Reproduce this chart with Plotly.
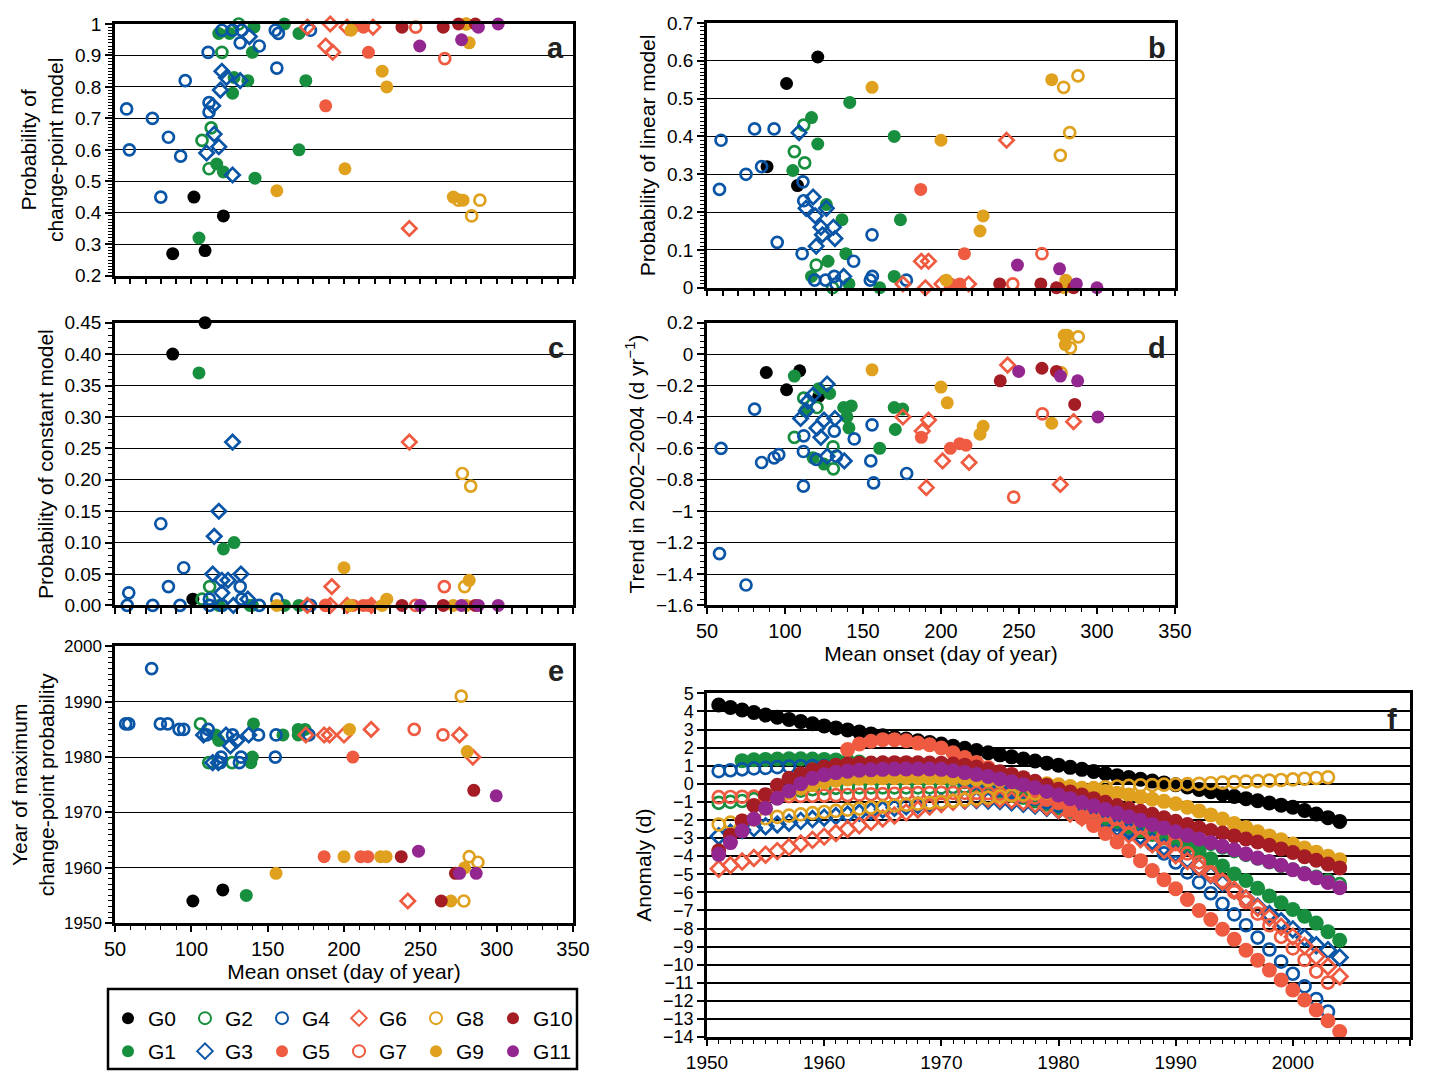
import plotly.graph_objects as go

# ---------------- groups / styles ----------------
GROUPS = ["G0", "G1", "G2", "G3", "G4", "G5", "G6", "G7", "G8", "G9", "G10", "G11"]
COLOR = {"G0": "#000000", "G1": "#178f3f", "G2": "#178f3f", "G3": "#0a55a6", "G4": "#0a55a6",
         "G5": "#ef5b40", "G6": "#ef5b40", "G7": "#ef5b40", "G8": "#dfa11e", "G9": "#dfa11e",
         "G10": "#a51d24", "G11": "#93278f"}
SYMBOL = {"G0": "circle", "G1": "circle", "G2": "circle-open", "G3": "diamond-open", "G4": "circle-open",
          "G5": "circle", "G6": "diamond-open", "G7": "circle-open", "G8": "circle-open", "G9": "circle",
          "G10": "circle", "G11": "circle"}

# ---------------- panel a: probability of change-point model ----------------
A_X = {"G0": [101.7, 121, 87.8, 109],
       "G1": [118, 125, 141, 161, 170.5, 140, 128, 137, 127, 175, 170.5, 116.6, 121, 141.7, 105],
       "G2": [131, 120, 113, 107, 111.6],
       "G3": [138, 120, 123, 132, 119, 114, 115, 118, 110, 127],
       "G4": [57.6, 59.4, 74.5, 80, 85, 93, 96, 111, 111.6, 111.6, 120, 127, 132, 133, 144.5, 155, 157, 156, 178],
       "G5": [206, 212.7, 216, 188],
       "G6": [176, 191, 202, 219, 188, 192.6, 242.8],
       "G7": [247, 266],
       "G8": [275, 289, 283.6, 280],
       "G9": [204.6, 280, 282, 225, 228, 200.6, 156, 271.6, 278],
       "G10": [238, 265, 275, 286],
       "G11": [249.6, 277, 288, 301]}
A_Y = {"G0": [0.45, 0.39, 0.27, 0.28],
       "G1": [0.97, 0.97, 0.99, 1.0, 0.97, 0.91, 0.83, 0.82, 0.78, 0.82, 0.60, 0.555, 0.53, 0.51, 0.32],
       "G2": [1.0, 0.91, 0.67, 0.63, 0.54],
       "G3": [0.96, 0.85, 0.83, 0.82, 0.79, 0.74, 0.65, 0.61, 0.59, 0.52],
       "G4": [0.73, 0.60, 0.70, 0.45, 0.64, 0.58, 0.82, 0.91, 0.75, 0.72, 0.98, 0.98, 0.94, 0.98, 0.93, 0.98, 0.97, 0.86, 0.98],
       "G5": [0.99, 0.99, 0.91, 0.74],
       "G6": [0.99, 1.0, 0.99, 0.99, 0.93, 0.91, 0.35],
       "G7": [0.99, 0.89],
       "G8": [0.44, 0.44, 0.39, 1.0],
       "G9": [0.98, 1.0, 0.94, 0.85, 0.80, 0.54, 0.47, 0.45, 0.44],
       "G10": [0.99, 0.99, 1.0, 1.0],
       "G11": [0.93, 0.95, 0.99, 1.0]}

# ---------------- panel b: probability of linear model ----------------
B_X = {"G0": [121, 101, 88.5, 108],
       "G1": [117, 141.5, 121, 105, 126.5, 136.5, 170, 174, 139, 127.6, 117, 141, 160.7, 170],
       "G2": [112, 106, 112.6, 120, 130.5],
       "G3": [109, 118, 113.5, 119.4, 126.5, 123, 131, 124, 132, 120, 137.6],
       "G4": [59, 58, 80.5, 93, 75, 85, 95, 111.5, 112, 111, 119, 131.6, 132.7, 144, 155.8, 156, 154.7, 177.8, 126],
       "G5": [187, 215, 206, 212],
       "G6": [242, 187.4, 192, 175.6, 190, 200.6, 217.7],
       "G7": [264.7, 246],
       "G8": [278.6, 287.8, 282.5, 276.5],
       "G9": [155.8, 200, 227, 225, 271, 203.4, 280, 279],
       "G10": [237.6, 264, 274, 285],
       "G11": [249, 276, 286.8, 300]}
B_Y = {"G0": [0.61, 0.54, 0.32, 0.27],
       "G1": [0.45, 0.49, 0.38, 0.31, 0.22, 0.18, 0.40, 0.18, 0.09, 0.07, 0.03, 0.01, 0.0, 0.03],
       "G2": [0.43, 0.36, 0.33, 0.06, 0.0],
       "G3": [0.41, 0.24, 0.21, 0.19, 0.21, 0.16, 0.16, 0.14, 0.13, 0.11, 0.03],
       "G4": [0.39, 0.26, 0.42, 0.42, 0.30, 0.32, 0.12, 0.28, 0.23, 0.09, 0.02, 0.03, 0.01, 0.07, 0.14, 0.03, 0.02, 0.02, 0.02],
       "G5": [0.26, 0.09, 0.01, 0.01],
       "G6": [0.39, 0.07, 0.07, 0.01, 0.0, 0.01, 0.01],
       "G7": [0.09, 0.01],
       "G8": [0.53, 0.56, 0.41, 0.35],
       "G9": [0.53, 0.39, 0.19, 0.15, 0.55, 0.02, 0.02, 0.0],
       "G10": [0.01, 0.01, 0.0, 0.0],
       "G11": [0.06, 0.05, 0.01, 0.0]}

# ---------------- panel c: probability of constant model ----------------
C_X = {"G0": [109, 87.8, 101],
       "G1": [105, 121, 128, 118, 138.4, 161, 170.5, 140],
       "G2": [112, 107, 120],
       "G3": [127, 118, 115, 114, 132.5, 120, 124, 120, 127.5, 137],
       "G4": [80, 95, 59, 85, 58, 74.7, 92.6, 111.8, 132, 133, 111.8, 120, 144.5, 156, 178],
       "G5": [206, 212.7, 216, 188],
       "G6": [242.8, 192, 176, 191, 218, 202],
       "G7": [265.7, 188, 247],
       "G8": [277.5, 283, 279],
       "G9": [200, 282, 228, 156, 204, 225, 271.6, 280],
       "G10": [238, 265, 286],
       "G11": [250, 277, 288, 301]}
C_Y = {"G0": [0.45, 0.40, 0.01],
       "G1": [0.37, 0.09, 0.10, 0.0, 0.0, 0.0, 0.0, 0.0],
       "G2": [0.03, 0.01, 0.0],
       "G3": [0.26, 0.15, 0.11, 0.05, 0.05, 0.04, 0.04, 0.02, 0.0, 0.01],
       "G4": [0.13, 0.06, 0.02, 0.03, 0.0, 0.0, 0.0, 0.01, 0.03, 0.01, 0.0, 0.0, 0.0, 0.01, 0.0],
       "G5": [0.0, 0.0, 0.0, 0.0],
       "G6": [0.26, 0.03, 0.0, 0.0, 0.0, 0.0],
       "G7": [0.03, 0.0, 0.0],
       "G8": [0.21, 0.19, 0.03],
       "G9": [0.06, 0.04, 0.01, 0.0, 0.0, 0.0, 0.0, 0.0],
       "G10": [0.0, 0.0, 0.0],
       "G11": [0.0, 0.0, 0.0, 0.0]}

# ---------------- panel d: trend in 2002-2004 ----------------
D_X = {"G0": [88, 109.4, 101, 121.6],
       "G1": [106, 121.6, 128.6, 137.6, 142.5, 139.7, 141, 170, 175.4, 170.7, 160.7, 118, 125, 113],
       "G2": [112, 120.5, 106, 130.8, 131],
       "G3": [127, 118, 114.7, 113.7, 110, 125, 132, 120.5, 123, 127, 138],
       "G4": [59, 58, 75, 80.5, 85, 93, 96, 112, 111.8, 111.8, 120, 131.6, 133, 144.4, 155.8, 155, 156.8, 178],
       "G5": [187.4, 206, 212, 216],
       "G6": [242.7, 175.6, 192, 188, 201, 218, 190.6, 276.5, 285],
       "G7": [265, 246.6],
       "G8": [288, 283, 277],
       "G9": [155.8, 200, 204, 227, 225, 271, 279, 281, 279.7],
       "G10": [238, 264.7, 274, 285.7],
       "G11": [249.8, 276.5, 287.6, 300.6]}
D_Y = {"G0": [-0.117, -0.106, -0.227, -0.27],
       "G1": [-0.14, -0.22, -0.25, -0.34, -0.33, -0.40, -0.47, -0.34, -0.35, -0.48, -0.60, -0.66, -0.70, -0.36],
       "G2": [-0.28, -0.34, -0.53, -0.59, -0.73],
       "G3": [-0.19, -0.26, -0.30, -0.36, -0.41, -0.42, -0.41, -0.47, -0.53, -0.65, -0.68],
       "G4": [-0.60, -1.27, -1.47, -0.35, -0.69, -0.66, -0.64, -0.52, -0.62, -0.84, -0.67, -0.49, -0.65, -0.54, -0.45, -0.68, -0.82, -0.76],
       "G5": [-0.53, -0.60, -0.57, -0.58],
       "G6": [-0.07, -0.40, -0.42, -0.49, -0.68, -0.69, -0.85, -0.83, -0.43],
       "G7": [-0.38, -0.91],
       "G8": [0.11, 0.04, -0.12],
       "G9": [-0.10, -0.21, -0.31, -0.46, -0.51, -0.44, 0.12, 0.12, 0.06],
       "G10": [-0.17, -0.09, -0.11, -0.32],
       "G11": [-0.11, -0.14, -0.17, -0.40]}

# ---------------- panel e: year of maximum change-point probability ----------------
E_X = {"G0": [101, 120.6],
       "G1": [140.7, 140, 139, 118, 116, 160, 170, 174.5, 170, 136],
       "G2": [106, 126.7, 111.4],
       "G3": [108, 122.7, 129.7, 125.6, 137.6, 114, 117.7],
       "G4": [74, 57, 59, 79.7, 84.5, 92, 95, 111, 110, 119.5, 132.6, 131.5, 144, 155.5, 155, 177, 119, 127],
       "G5": [205.8, 187, 211, 215.6],
       "G6": [175, 187, 190.5, 200, 217.8, 275.7, 284.4, 241.8],
       "G7": [246, 264.8],
       "G8": [276.8, 282, 287.7, 278.5],
       "G9": [203.6, 280.7, 155.5, 200, 224, 227.6, 279, 270],
       "G10": [285, 237.5, 273, 263.7],
       "G11": [299.7, 248.8, 275.7, 286.6]}
E_Y = {"G0": [1954, 1956],
       "G1": [1986, 1980, 1979, 1983, 1984, 1984, 1985, 1985, 1984, 1955],
       "G2": [1986, 1979, 1979],
       "G3": [1984, 1984, 1983, 1982, 1984, 1979, 1979],
       "G4": [1996, 1986, 1986, 1986, 1986, 1985, 1985, 1985, 1984, 1980, 1980, 1979, 1984, 1984, 1980, 1984, 1979, 1984],
       "G5": [1980, 1962, 1962, 1962],
       "G6": [1984, 1984, 1984, 1984, 1985, 1984, 1980, 1954],
       "G7": [1985, 1984],
       "G8": [1991, 1962, 1961, 1954],
       "G9": [1985, 1981, 1959, 1962, 1962, 1962, 1960, 1954],
       "G10": [1974, 1962, 1959, 1954],
       "G11": [1973, 1963, 1959, 1959]}

# ---------------- panel f: anomaly (d) by year ----------------
F_START = {"G0": 1951, "G1": 1953, "G2": 1951, "G3": 1951, "G4": 1951, "G5": 1962,
           "G6": 1951, "G7": 1951, "G8": 1951, "G9": 1957, "G10": 1951, "G11": 1951}
F_VALUES = {
    "G0": [4.36, 4.22, 4.08, 3.94, 3.80, 3.68, 3.56, 3.44, 3.32, 3.20,
           3.09, 2.98, 2.87, 2.76, 2.65, 2.56, 2.47, 2.38, 2.29, 2.20,
           2.08, 1.96, 1.84, 1.72, 1.60, 1.49, 1.37, 1.26, 1.14, 1.03,
           0.91, 0.80, 0.68, 0.57, 0.45, 0.35, 0.25, 0.15, 0.05, -0.05,
           -0.18, -0.31, -0.44, -0.57, -0.70, -0.82, -0.94, -1.06, -1.18, -1.30,
           -1.48, -1.67, -1.87, -2.08],
    "G1": [1.28, 1.33, 1.35, 1.37, 1.38, 1.38, 1.37, 1.35,
           1.32, 1.27, 1.20, 1.12, 1.03, 0.93, 0.82, 0.70, 0.57, 0.43,
           0.28, 0.12, -0.05, -0.22, -0.40, -0.58, -0.76, -0.95, -1.13, -1.32,
           -1.50, -1.68, -1.86, -2.04, -2.22, -2.40, -2.60, -2.80, -3.00, -3.20,
           -3.45, -3.75, -4.15, -4.55, -4.98, -5.35, -5.78, -6.20, -6.58, -6.95,
           -7.32, -7.70, -8.18, -8.65],
    "G2": [-1.05, -1.00, -0.95, -0.85, -0.72, -0.60, -0.48, -0.38, -0.30, -0.25,
           -0.22, -0.20, -0.20, -0.20, -0.20, -0.20, -0.20, -0.20, -0.20, -0.20,
           -0.18, -0.16, -0.15, -0.16, -0.20, -0.28, -0.38, -0.50, -0.62, -0.75,
           -0.90, -1.08, -1.27, -1.47, -1.67, -1.87, -2.07, -2.28, -2.50, -2.72,
           -2.92, -3.12, -3.32, -3.52, -3.72, -3.93, -4.13, -4.33, -4.53, -4.75,
           -4.95, -5.15, -5.35, -5.55],
    "G3": [-2.90, -2.70, -2.55, -2.45, -2.35, -2.25, -2.15, -2.05, -1.95, -1.87,
           -1.78, -1.70, -1.60, -1.50, -1.42, -1.33, -1.25, -1.18, -1.10, -1.02,
           -0.96, -0.92, -0.90, -0.92, -0.96, -1.02, -1.10, -1.20, -1.32, -1.46,
           -1.62, -1.80, -2.00, -2.20, -2.42, -2.65, -2.90, -3.18, -3.50, -3.85,
           -4.20, -4.60, -5.05, -5.50, -5.90, -6.35, -6.80, -7.20, -7.60, -8.05,
           -8.50, -8.93, -9.20, -9.60],
    "G4": [0.70, 0.75, 0.80, 0.85, 0.88, 0.92, 0.95, 0.97, 0.98, 0.98,
           0.97, 0.95, 0.92, 0.88, 0.83, 0.77, 0.70, 0.62, 0.52, 0.42,
           0.30, 0.17, 0.03, -0.12, -0.28, -0.45, -0.63, -0.82, -1.02, -1.22,
           -1.42, -1.63, -1.85, -2.05, -2.25, -2.55, -2.95, -3.35, -3.85, -4.35,
           -4.90, -5.45, -6.05, -6.63, -7.22, -7.82, -8.50, -9.16, -9.83, -10.50,
           -11.20, -11.90, -12.60],
    "G5": [1.89, 2.20, 2.35, 2.44, 2.44, 2.38, 2.25, 2.16, 1.98,
           1.72, 1.45, 1.18, 0.90, 0.60, 0.28, -0.05, -0.38, -0.72, -1.04,
           -1.45, -1.87, -2.30, -2.75, -3.22, -3.70, -4.25, -4.80, -5.30, -5.80,
           -6.40, -7.00, -7.50, -8.04, -8.60, -9.20, -9.75, -10.30, -10.85, -11.40,
           -11.95, -12.50, -13.10, -13.70],
    "G6": [-4.70, -4.50, -4.30, -4.10, -3.92, -3.72, -3.50, -3.30, -3.10, -2.92,
           -2.72, -2.50, -2.30, -2.10, -1.92, -1.75, -1.58, -1.42, -1.26, -1.12,
           -1.00, -0.90, -0.84, -0.82, -0.84, -0.90, -1.00, -1.12, -1.27, -1.45,
           -1.65, -1.86, -2.08, -2.30, -2.55, -2.80, -3.07, -3.35, -3.65, -3.95,
           -4.27, -4.60, -5.00, -5.40, -5.85, -6.35, -6.85, -7.40, -7.90, -8.45,
           -8.97, -9.55, -10.10, -10.65],
    "G7": [-0.74, -0.73, -0.72, -0.71, -0.70, -0.69, -0.68, -0.67, -0.66, -0.65,
           -0.63, -0.62, -0.60, -0.58, -0.57, -0.55, -0.54, -0.52, -0.51, -0.50,
           -0.50, -0.50, -0.50, -0.52, -0.55, -0.60, -0.67, -0.76, -0.87, -1.00,
           -1.15, -1.32, -1.50, -1.70, -1.92, -2.15, -2.40, -2.68, -2.98, -3.33,
           -3.85, -4.34, -4.89, -5.38, -5.99, -6.54, -7.18, -7.82, -8.46, -9.10,
           -9.74, -10.38, -10.99],
    "G8": [-2.25, -2.15, -2.05, -1.97, -1.90, -1.83, -1.76, -1.69, -1.62, -1.56,
           -1.50, -1.43, -1.37, -1.31, -1.26, -1.20, -1.15, -1.10, -1.05, -1.00,
           -0.94, -0.88, -0.82, -0.76, -0.70, -0.65, -0.60, -0.54, -0.48, -0.42,
           -0.36, -0.30, -0.24, -0.19, -0.15, -0.12, -0.09, -0.07, -0.05, -0.04,
           -0.02, 0.00, 0.03, 0.06, 0.09, 0.12, 0.15, 0.18, 0.21, 0.24,
           0.28, 0.32, 0.36],
    "G9": [-0.50, -0.25, -0.05, 0.10,
           0.20, 0.27, 0.30, 0.32, 0.33, 0.34, 0.34, 0.34, 0.33, 0.32,
           0.31, 0.29, 0.26, 0.22, 0.18, 0.14, 0.10, 0.05, 0.00, -0.05,
           -0.15, -0.25, -0.33, -0.42, -0.52, -0.62, -0.73, -0.85, -0.97, -1.10,
           -1.30, -1.50, -1.72, -1.95, -2.20, -2.42, -2.65, -2.88, -3.10, -3.33,
           -3.55, -3.78, -4.00, -4.20],
    "G10": [-3.70, -2.85, -2.05, -1.20, -0.60, -0.08, 0.30, 0.55, 0.78, 0.93,
            1.02, 1.10, 1.13, 1.15, 1.16, 1.17, 1.17, 1.16, 1.15, 1.13,
            1.09, 1.03, 0.93, 0.80, 0.66, 0.52, 0.34, 0.14, -0.08, -0.30,
            -0.46, -0.62, -0.82, -1.02, -1.20, -1.37, -1.52, -1.68, -1.88, -2.07,
            -2.25, -2.43, -2.58, -2.72, -2.88, -3.05, -3.22, -3.40, -3.60, -3.80,
            -4.03, -4.23, -4.44, -4.65],
    "G11": [-3.90, -3.25, -2.60, -1.95, -1.35, -0.80, -0.40, 0.00, 0.30, 0.50,
            0.62, 0.70, 0.75, 0.78, 0.80, 0.82, 0.82, 0.82, 0.82, 0.80,
            0.72, 0.62, 0.52, 0.40, 0.27, 0.12, -0.05, -0.22, -0.42, -0.62,
            -0.82, -1.02, -1.22, -1.42, -1.62, -1.82, -2.02, -2.25, -2.45, -2.65,
            -2.85, -3.05, -3.25, -3.45, -3.65, -3.88, -4.10, -4.30, -4.50, -4.75,
            -4.98, -5.20, -5.45, -5.75],
}

# ---------------- tick labels ----------------
A_TICKS = [0.2, 0.3, 0.4, 0.5, 0.6, 0.7, 0.8, 0.9, 1.0]
A_TICKTEXT = ["0.2", "0.3", "0.4", "0.5", "0.6", "0.7", "0.8", "0.9", "1"]
B_TICKS = [0, 0.1, 0.2, 0.3, 0.4, 0.5, 0.6, 0.7]
B_TICKTEXT = ["0", "0.1", "0.2", "0.3", "0.4", "0.5", "0.6", "0.7"]
C_TICKS = [0, 0.05, 0.10, 0.15, 0.20, 0.25, 0.30, 0.35, 0.40, 0.45]
C_TICKTEXT = ["0.00", "0.05", "0.10", "0.15", "0.20", "0.25", "0.30", "0.35", "0.40", "0.45"]
D_TICKS = [0.2, 0, -0.2, -0.4, -0.6, -0.8, -1.0, -1.2, -1.4, -1.6]
D_TICKTEXT = ["0.2", "0", "\u22120.2", "\u22120.4", "\u22120.6", "\u22120.8", "\u22121",
              "\u22121.2", "\u22121.4", "\u22121.6"]
E_TICKS = [1950, 1960, 1970, 1980, 1990, 2000]
ONSET_TICKS = [50, 100, 150, 200, 250, 300, 350]
F_TICKS = list(range(5, -15, -1))
F_TICKTEXT = [str(v) if v >= 0 else "\u2212" + str(-v) for v in F_TICKS]
F_XTICKS = [1950, 1960, 1970, 1980, 1990, 2000, 2010]

FONT = "Liberation Sans, Arial, Helvetica, sans-serif"
OFF = 8                      # page body margin of the html page
W, H = 1430 - OFF, 1072 - OFF


def dom_x(x0, x1):
    return [(x0 - OFF) / W, (x1 - OFF) / W]


def dom_y(top, bottom):
    return [1 - (bottom - OFF) / H, 1 - (top - OFF) / H]


def px(x):
    return (x - OFF) / W


def py(y):
    return 1 - (y - OFF) / H


fig = go.Figure()


def marker_for(g, big=False):
    open_sym = SYMBOL[g] != "circle"
    if SYMBOL[g] == "circle":
        size = 15 if big else 13
    else:
        size = 12 if big else 11
    return dict(symbol=SYMBOL[g], size=size, color=COLOR[g],
                line=dict(width=2.7 if open_sym else 0, color=COLOR[g]))


panels = [("x", "y", A_X, A_Y), ("x2", "y2", B_X, B_Y), ("x3", "y3", C_X, C_Y),
          ("x4", "y4", D_X, D_Y), ("x5", "y5", E_X, E_Y)]
for xa, ya, PX, PY in panels:
    for g in GROUPS:
        fig.add_trace(go.Scatter(x=PX[g], y=PY[g], mode="markers", xaxis=xa, yaxis=ya,
                                 marker=marker_for(g), showlegend=False,
                                 cliponaxis=False, name=g, hoverinfo="skip"))

TOP_ROW = ["G0", "G2", "G4", "G6", "G8", "G10"]
for g in GROUPS:
    yrs = list(range(F_START[g], F_START[g] + len(F_VALUES[g])))
    fig.add_trace(go.Scatter(x=yrs, y=F_VALUES[g], mode="markers", xaxis="x6", yaxis="y6",
                             marker=marker_for(g, big=True), name=g, showlegend=True,
                             legend="legend" if g in TOP_ROW else "legend2",
                             legendrank=GROUPS.index(g), cliponaxis=False))

# blank spacer entries (no drawn point) so the last legend label in each row is not clipped
for lg in ["legend", "legend2"]:
    fig.add_trace(go.Scatter(x=[None], y=[None], mode="markers", xaxis="x6", yaxis="y6",
                             marker=dict(color="rgba(0,0,0,0)", size=1), name=" ",
                             showlegend=True, legend=lg, legendrank=99, hoverinfo="skip"))

titlefont = dict(family=FONT, size=21, color="black")
LW = 2.5


def xax(domain, anchor, show_labels, rng, tickvals=None, dtick=None, title=None, minor=None, fsize=19):
    d = dict(domain=domain, anchor=anchor, range=rng, showgrid=False, zeroline=False,
             showline=True, linecolor="black", linewidth=LW, mirror=True, automargin=False,
             ticks="outside", ticklen=6, tickwidth=1.5, tickcolor="black",
             showticklabels=show_labels, tickfont=dict(family=FONT, size=fsize, color="black"))
    if tickvals is not None:
        d["tickmode"] = "array"
        d["tickvals"] = tickvals
    if dtick is not None:
        d["dtick"] = dtick
        d["tick0"] = rng[0]
    if minor is not None:
        d["minor"] = dict(dtick=minor, ticks="outside", ticklen=4, tickwidth=1, tickcolor="black", showgrid=False)
    if title:
        d["title"] = dict(text=title, font=titlefont, standoff=2)
    return d


def yax(domain, anchor, rng, tickvals, ticktext, title, minor=None, gw=1.3, fsize=19):
    d = dict(domain=domain, anchor=anchor, range=rng, showgrid=True, gridcolor="black", gridwidth=gw,
             zeroline=False, showline=True, linecolor="black", linewidth=LW, mirror=True, automargin=False,
             ticks="outside", ticklen=7, tickwidth=1.5, tickcolor="black",
             tickmode="array", tickvals=tickvals, ticktext=ticktext,
             tickfont=dict(family=FONT, size=fsize, color="black"),
             title=dict(text=title, font=titlefont, standoff=6))
    if minor is not None:
        d["minor"] = dict(dtick=minor, ticks="outside", ticklen=4, tickwidth=1, tickcolor="black", showgrid=False)
    return d


LEFT = dom_x(115, 573)
RIGHT = dom_x(707, 1175)

legend_common = dict(xanchor="left", yanchor="top", orientation="h",
                     font=dict(family=FONT, size=21, color="black"), bgcolor="rgba(0,0,0,0)",
                     entrywidth=32, entrywidthmode="pixels", itemwidth=30, traceorder="normal",
                     tracegroupgap=0, itemsizing="constant")

fig.update_layout(
    width=W, height=H, margin=dict(l=0, r=0, t=0, b=0),
    paper_bgcolor="white", plot_bgcolor="white",
    font=dict(family=FONT, color="black"),
    xaxis=xax(LEFT, "y", False, [50, 350], dtick=10),
    yaxis=yax(dom_y(24, 276), "x", [0.2, 1.0], A_TICKS, A_TICKTEXT,
              "Probability of<br>change-point model", minor=0.01),
    xaxis2=xax(RIGHT, "y2", False, [50, 350], dtick=10),
    yaxis2=yax(dom_y(23, 288), "x2", [0, 0.7], B_TICKS, B_TICKTEXT,
               "Probability of linear model", minor=0.01),
    xaxis3=xax(LEFT, "y3", False, [50, 350], dtick=10),
    yaxis3=yax(dom_y(323, 606), "x3", [0, 0.45], C_TICKS, C_TICKTEXT,
               "Probability of constant model", minor=0.01),
    xaxis4=xax(RIGHT, "y4", True, [50, 350], tickvals=ONSET_TICKS, minor=10,
               title="Mean onset (day of year)", fsize=20),
    yaxis4=yax(dom_y(323, 606), "x4", [-1.6, 0.2], D_TICKS, D_TICKTEXT,
               "Trend in 2002\u20132004 (d yr<sup>\u22121</sup>)", minor=0.04),
    xaxis5=xax(LEFT, "y5", True, [50, 350], tickvals=ONSET_TICKS, minor=10,
               title="Mean onset (day of year)", fsize=20),
    yaxis5=yax(dom_y(647, 924), "x5", [1950, 2000], E_TICKS, [str(v) for v in E_TICKS],
               "Year of maximum<br>change-point probability", minor=1, fsize=17),
    xaxis6=xax(dom_x(707, 1410), "y6", True, [1950, 2010], tickvals=F_XTICKS, minor=1, fsize=19),
    yaxis6=yax(dom_y(694, 1038), "x6", [-14, 5], F_TICKS, F_TICKTEXT, "Anomaly (d)", gw=1.6, fsize=18),
    legend=dict(x=px(108), y=py(998), **legend_common),
    legend2=dict(x=px(108), y=py(1032), **legend_common),
    shapes=[dict(type="rect", xref="paper", yref="paper", x0=px(108), x1=px(577),
                 y0=py(1070), y1=py(990), line=dict(color="black", width=2.5),
                 fillcolor="rgba(0,0,0,0)")],
)

# panel letters
for ax, letter in [("x", "a"), ("x2", "b"), ("x3", "c"), ("x4", "d"), ("x5", "e"), ("x6", "f")]:
    yref = ax.replace("x", "y")
    fig.add_annotation(text="<b>" + letter + "</b>", xref=ax + " domain", yref=yref + " domain",
                       x=0.985, y=0.975, xanchor="right", yanchor="top", showarrow=False,
                       font=dict(family=FONT, size=29, color="#222222"))

fig.write_html("out.html")
